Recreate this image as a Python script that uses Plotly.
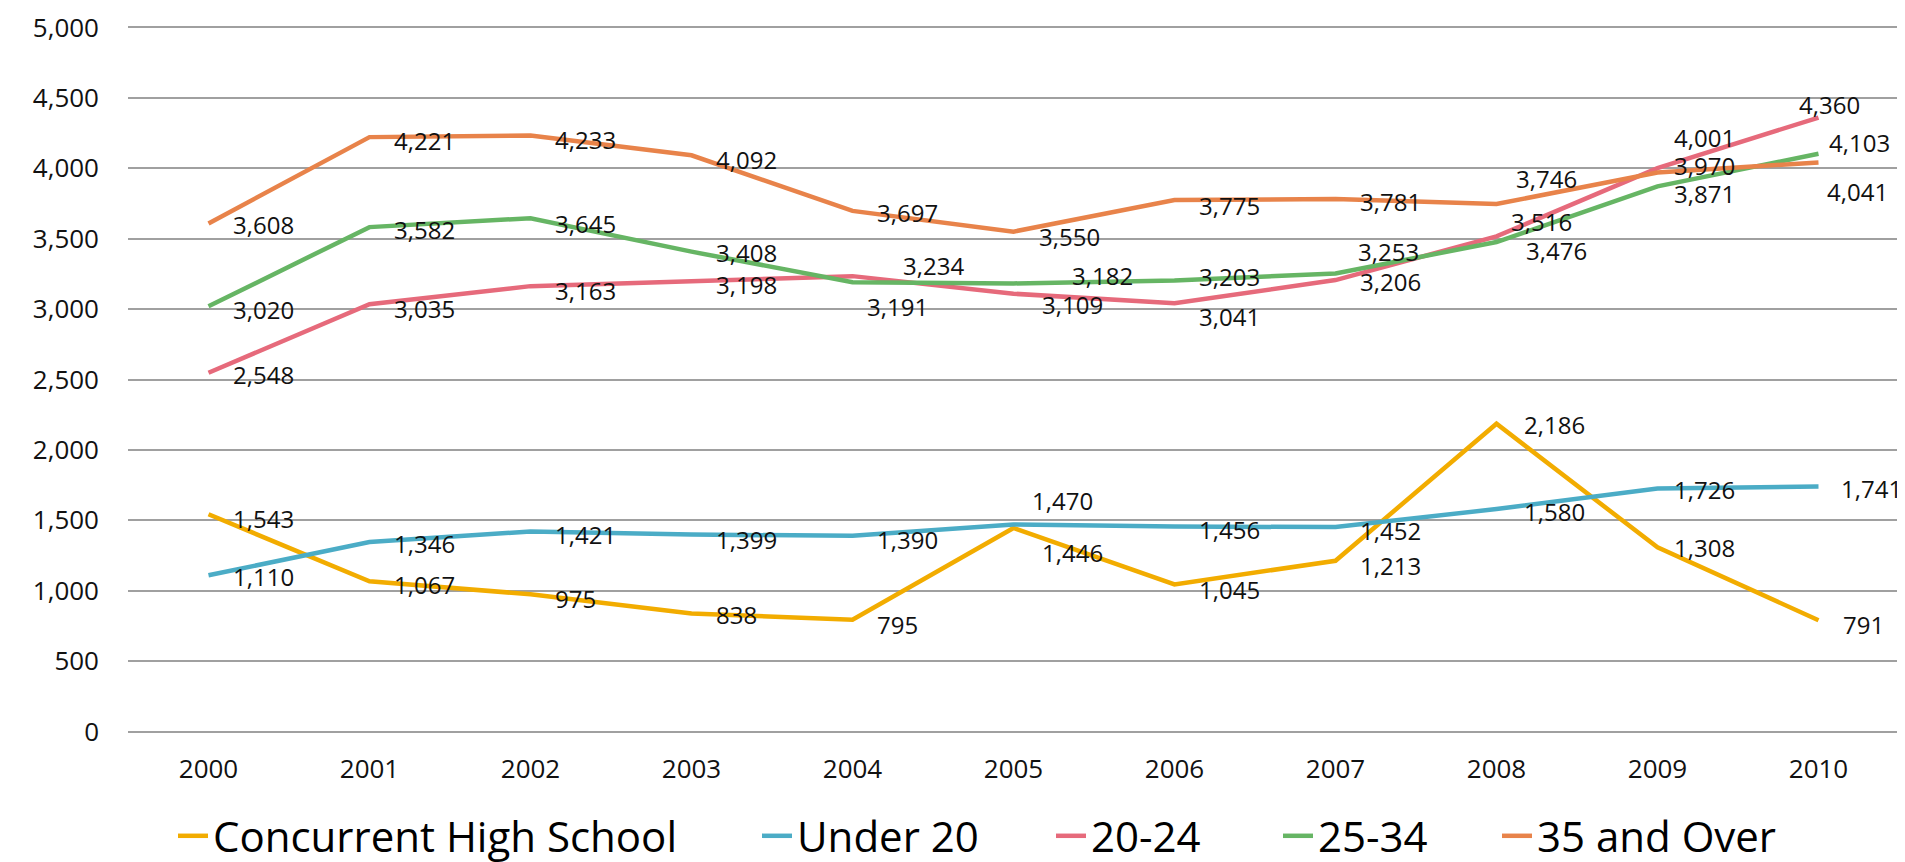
import plotly.graph_objects as go

years = [2000, 2001, 2002, 2003, 2004, 2005, 2006, 2007, 2008, 2009, 2010]

concurrent_hs = [1543, 1067, 975, 838, 795, 1446, 1045, 1213, 2186, 1308, 791]
under_20 = [1110, 1346, 1421, 1399, 1390, 1470, 1456, 1452, 1580, 1726, 1741]
age_20_24 = [2548, 3035, 3163, 3198, 3234, 3109, 3041, 3206, 3516, 4001, 4360]
age_25_34 = [3020, 3582, 3645, 3408, 3191, 3182, 3203, 3253, 3476, 3871, 4103]
age_35_over = [3608, 4221, 4233, 4092, 3697, 3550, 3775, 3781, 3746, 3970, 4041]

series_names = ["Concurrent High School", "Under 20", "20-24", "25-34", "35 and Over"]
series_values = [concurrent_hs, under_20, age_20_24, age_25_34, age_35_over]

# styling / label placement (pixels), kept apart from the data
colors = ["#F2AC00", "#4BACC6", "#E66A7B", "#66B564", "#E8834A"]
label_dx = [
    [22, 22, 22, 22, 22, 26, 22, 22, 25, 14, 22],
    [22, 22, 22, 22, 22, 16, 22, 22, 25, 14, 20],
    [22, 22, 22, 22, 48, 26, 22, 22, 12, 14, -22],
    [22, 22, 22, 22, 12, 56, 22, 20, 27, 14, 8],
    [22, 22, 22, 22, 22, 23, 22, 22, 17, 14, 6],
]
label_dy = [
    [4, 3, 4, 1, 5, 25, 5, 5, 1, 0, 4],
    [1, 1, 3, 5, 4, -24, 3, 3, 2, 1, 2],
    [2, 4, 4, 3, -11, 11, 13, 1, -15, -31, -13],
    [3, 2, 5, 1, 24, -8, -4, -22, 8, 7, -11],
    [1, 3, 4, 4, 2, 5, 6, 2, -26, -7, 29],
]
legend_text_x = [205, 789, 1083, 1310, 1529]

FONT = "Open Sans, Lato, sans-serif"
W, H = 1905, 862

fig = go.Figure()
annotations = []
legends = {}
for k, (name, vals) in enumerate(zip(series_names, series_values)):
    lg = f"legend{k+2}"
    fig.add_trace(go.Scatter(
        x=years, y=vals, name=name, mode="lines",
        line=dict(color=colors[k], width=4.5),
        legend=lg, hoverinfo="skip",
    ))
    for i, (yr, v) in enumerate(zip(years, vals)):
        annotations.append(dict(
            x=yr, y=v, xref="x", yref="y", text=f"{v:,}", showarrow=False,
            xanchor="left", yanchor="middle",
            xshift=label_dx[k][i], yshift=-label_dy[k][i],
            font=dict(family=FONT, size=24, color="#111111"),
        ))
    legends[lg] = dict(
        orientation="h", xref="container", yref="container",
        x=(legend_text_x[k] - 40) / W, xanchor="left",
        y=0, yanchor="bottom",
        font=dict(family=FONT, size=42, color="#000000"),
        bgcolor="rgba(0,0,0,0)", borderwidth=0,
    )

fig.update_layout(
    width=W, height=H,
    margin=dict(l=120, r=14, t=18, b=137, autoexpand=False),
    paper_bgcolor="white", plot_bgcolor="white",
    showlegend=True,
    annotations=annotations,
    **legends,
    xaxis=dict(
        range=[years[0] - 0.5, years[-1] + 0.5], tickvals=years,
        showgrid=False, showline=False,
        zeroline=False, ticks="", ticklabelstandoff=18, automargin=False,
        tickfont=dict(family=FONT, size=26, color="#111111"),
    ),
    yaxis=dict(
        range=[-10, 5010], tickvals=list(range(0, 5001, 500)), tickformat=",d",
        showgrid=True, automargin=False,
        gridcolor="#A0A0A0", gridwidth=1.5, zeroline=False, showline=False,
        ticks="", ticklabelstandoff=28,
        tickfont=dict(family=FONT, size=26, color="#111111"),
    ),
)

fig.write_html("out.html")
